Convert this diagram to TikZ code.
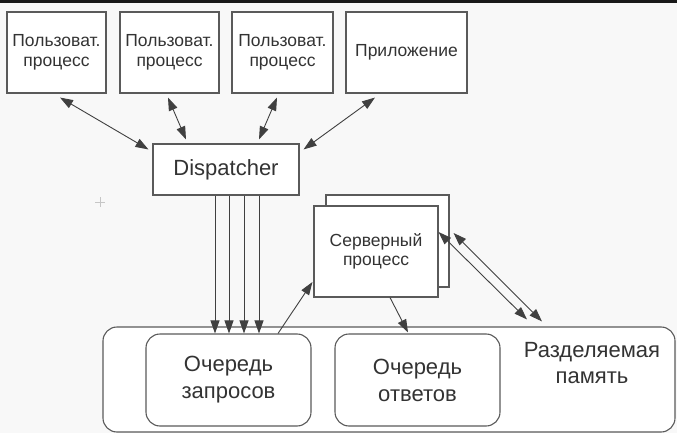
\documentclass[tikz,border=0pt]{standalone}
\usepackage{fontspec}
\setmainfont{Liberation Sans}
\usetikzlibrary{arrows.meta}
\definecolor{bgcol}{HTML}{F8F8F8}
\definecolor{edgecol}{HTML}{5A5A5A}
\definecolor{txtcol}{HTML}{333333}

\begin{document}
\begin{tikzpicture}[x=1pt,y=-1pt,
  box/.style={draw=edgecol,line width=1.1pt,fill=white,inner sep=0pt,text=txtcol,
    align=center,font=\fontsize{17.5}{19.5}\selectfont},
  qbox/.style={box,rounded corners=14pt,minimum width=165pt,minimum height=92pt,
    font=\fontsize{22}{27}\selectfont},
  arr/.style={draw=black!75,line width=0.9pt,-{Triangle[length=13pt,width=9pt]}},
  darr/.style={arr,{Triangle[length=13pt,width=9pt]}-{Triangle[length=13pt,width=9pt]}}]
  % 背景
  \fill[bgcol] (0,0) rectangle (677,433);
  \fill[black!90] (0,0) rectangle (677,3);
  \useasboundingbox (0,0) rectangle (677,433);
  \draw[gray!45,line width=0.8pt] (95,202) -- (105,202) (100,197) -- (100,207);

  % 用户进程和应用
  \node[box,minimum width=99pt,minimum height=81pt] (u1) at (56.5,52.5) {Пользоват.\\процесс};
  \node[box,minimum width=99pt,minimum height=81pt] (u2) at (169.5,52.5) {Пользоват.\\процесс};
  \node[box,minimum width=101pt,minimum height=81pt] (u3) at (282.5,52.5) {Пользоват.\\процесс};
  \node[box,minimum width=121pt,minimum height=81pt] (app) at (406.5,52.5) {Приложение};

  % 调度器
  \node[box,minimum width=146pt,minimum height=51pt,font=\fontsize{22}{26}\selectfont] (disp) at (226,169.5) {Dispatcher};

  % 服务器进程
  \node[box,minimum width=123pt,minimum height=92pt] (srvback) at (387.5,241) {};
  \node[box,minimum width=124pt,minimum height=91pt] (srv) at (376,251.5) {Серверный\\процесс};

  % 共享内存和队列
  \node[box,rounded corners=14pt,minimum width=572pt,minimum height=105pt] (shm) at (389,379.5) {};
  \node[qbox] (q1) at (228.5,380) {Очередь\\запросов};
  \node[qbox] (q2) at (417.5,380) {Очередь\\ответов};
  \node[text=txtcol,align=center,font=\fontsize{22}{26}\selectfont] (shmtxt) at (592,363) {Разделяемая\\память};

  % 连接
  \draw[darr] ([xshift=3.5pt,yshift=-4pt]u1.south) -- ([xshift=-4pt,yshift=-6pt]disp.north west);
  \draw[darr] ([xshift=-1.5pt,yshift=-4pt]u2.south) -- ([xshift=-40pt,yshift=4pt]disp.north);
  \draw[darr] ([xshift=-5.5pt,yshift=-4pt]u3.south) -- ([xshift=33pt,yshift=4pt]disp.north);
  \draw[darr] ([xshift=-31.5pt,yshift=-4pt]app.south) -- ([xshift=4pt,yshift=-6pt]disp.north east);

  \foreach \dx in {-11,3,18,33} {
    \draw[arr] ([xshift=\dx pt]disp.south) -- ([xshift=\dx pt]disp.south |- q1.north);
  }

  \draw[arr] ([xshift=49.5pt]q1.north) -- ([xshift=-1pt,yshift=-30.5pt]srv.west);
  \draw[arr] ([xshift=14pt]srv.south) -- ([xshift=-9.5pt,yshift=1pt]q2.north);
  \draw[darr] ([yshift=19.5pt]srv.east) -- ([xshift=138pt,yshift=7pt]shm.north);
  \draw[darr] ([xshift=4pt,yshift=8pt]srvback.east) -- ([xshift=153pt,yshift=5pt]shm.north);
\end{tikzpicture}
\end{document}
